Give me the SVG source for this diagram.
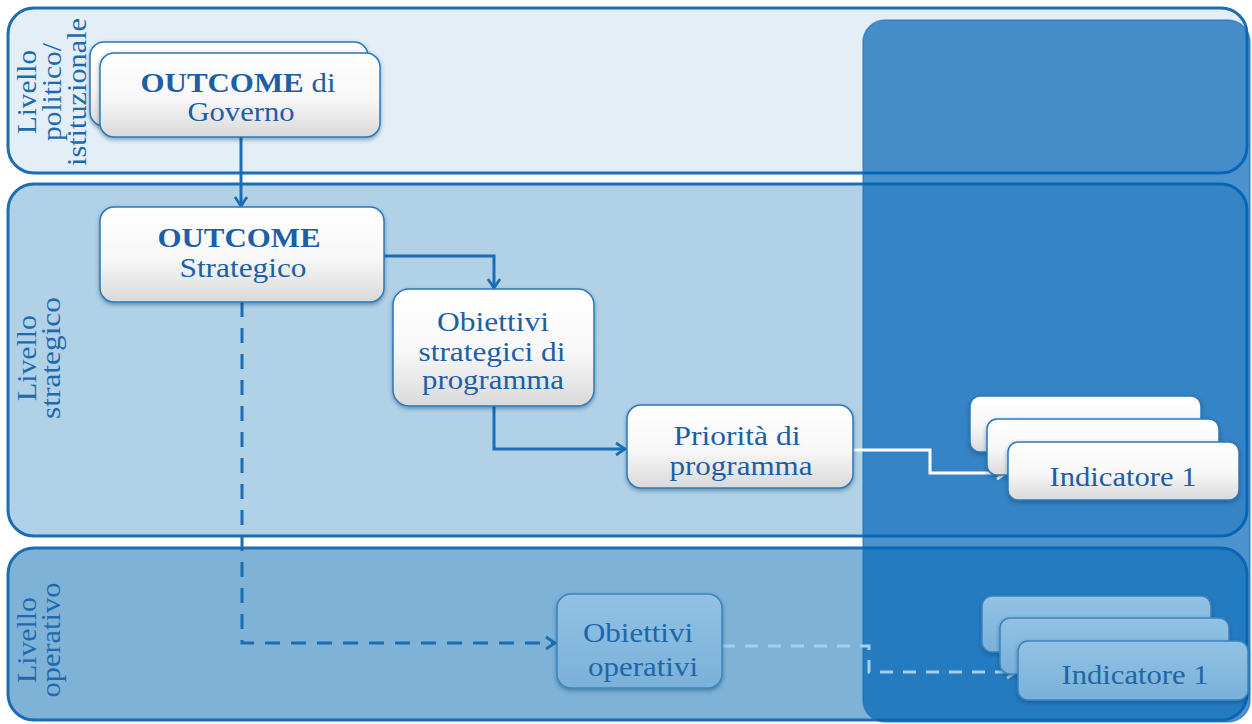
<svg xmlns="http://www.w3.org/2000/svg" width="1252" height="724" viewBox="0 0 1252 724">
<defs>
<linearGradient id="g" x1="0" y1="0" x2="0" y2="1">
<stop offset="0" stop-color="#ffffff"/>
<stop offset="0.55" stop-color="#f7f7f7"/>
<stop offset="1" stop-color="#d9d9d9"/>
</linearGradient>
<linearGradient id="g2" x1="0" y1="0" x2="0" y2="1">
<stop offset="0" stop-color="#92c2e5"/>
<stop offset="1" stop-color="#7ab1d9"/>
</linearGradient>
<filter id="sh" x="-10%" y="-10%" width="120%" height="130%">
<feDropShadow dx="0" dy="2" stdDeviation="2" flood-color="#0a3a66" flood-opacity="0.45"/>
</filter>
<marker id="ab" markerUnits="userSpaceOnUse" markerWidth="16" markerHeight="16" viewBox="0 0 16 16" refX="14" refY="8" orient="auto">
<path d="M5,2 L14,8 L5,14" fill="none" stroke="#1b6db4" stroke-width="2.8"/>
</marker>
<marker id="aw" markerUnits="userSpaceOnUse" markerWidth="16" markerHeight="16" viewBox="0 0 16 16" refX="14" refY="8" orient="auto">
<path d="M5,2 L14,8 L5,14" fill="none" stroke="#ffffff" stroke-width="2.8"/>
</marker>
<marker id="al" markerUnits="userSpaceOnUse" markerWidth="16" markerHeight="16" viewBox="0 0 16 16" refX="14" refY="8" orient="auto">
<path d="M5,2 L14,8 L5,14" fill="none" stroke="#a8cfe9" stroke-width="2.8"/>
</marker>
</defs>
<style>
.band{stroke:#1b6db4;stroke-width:3}
.lbl{font-family:"Liberation Serif","Times New Roman",serif;font-size:27px;fill:#1f69ae;text-anchor:middle}
.box{fill:url(#g);stroke:#2a79bc;stroke-width:1.5;filter:url(#sh)}
.boxl{fill:url(#g2);stroke:#3a85c2;stroke-width:1.5;filter:url(#sh)}
.t{font-family:"Liberation Serif","Times New Roman",serif;font-size:27px;fill:#1c5fa6;text-anchor:middle}
.tl{font-family:"Liberation Serif","Times New Roman",serif;font-size:27px;fill:#2066a8;text-anchor:middle}
.con{fill:none;stroke:#1b6db4;stroke-width:3}
</style>

<g id="bands">
<rect class="band" x="8" y="8" width="1239" height="165" rx="26" fill="#e3eef6"/>
<rect class="band" x="8" y="184" width="1239" height="352" rx="26" fill="#b1d1e6"/>
<rect class="band" x="8" y="548" width="1239" height="172" rx="26" fill="#7eb2d6"/>
<rect x="863" y="20" width="387" height="702" rx="22" fill="#0064b6" fill-opacity="0.7" stroke="#1b6db4" stroke-width="1.5" stroke-opacity="0.6"/>
</g>

<g id="labels">
<text class="lbl" transform="translate(0,92) rotate(-90)"><tspan x="0" y="36" textLength="84" lengthAdjust="spacingAndGlyphs">Livello</tspan><tspan x="0" y="61" textLength="98" lengthAdjust="spacingAndGlyphs">politico/</tspan><tspan x="0" y="86" textLength="148" lengthAdjust="spacingAndGlyphs">istituzionale</tspan></text>
<text class="lbl" transform="translate(0,358) rotate(-90)"><tspan x="0" y="36" textLength="86" lengthAdjust="spacingAndGlyphs">Livello</tspan><tspan x="0" y="60" textLength="122" lengthAdjust="spacingAndGlyphs">strategico</tspan></text>
<text class="lbl" transform="translate(0,640) rotate(-90)"><tspan x="0" y="36" textLength="86" lengthAdjust="spacingAndGlyphs">Livello</tspan><tspan x="0" y="60" textLength="115" lengthAdjust="spacingAndGlyphs">operativo</tspan></text>
</g>

<g id="connectors">
<path class="con" d="M241,137 V206" marker-end="url(#ab)"/>
<path class="con" d="M384,256 H494 V288" marker-end="url(#ab)"/>
<path class="con" d="M494,406 V449 H625" marker-end="url(#ab)"/>
<path fill="none" stroke="#ffffff" stroke-width="3" d="M853,450 H930 V473 H1006" marker-end="url(#aw)"/>
<path class="con" stroke-dasharray="15 11" d="M242,302 V643 H555" marker-end="url(#ab)"/>
<path fill="none" stroke="#a8cfe9" stroke-width="3" stroke-dasharray="13 10" d="M722,646 H869 V672 H1016" marker-end="url(#al)"/>
</g>

<g id="n-outcome-governo">
<rect class="box" x="90" y="42" width="278" height="84" rx="14"/>
<rect class="box" x="100" y="53" width="280" height="84" rx="14"/>
<text class="t" x="238" y="92" textLength="195" lengthAdjust="spacingAndGlyphs"><tspan font-weight="bold">OUTCOME</tspan> di</text>
<text class="t" x="241" y="121" textLength="107" lengthAdjust="spacingAndGlyphs">Governo</text>
</g>

<g id="n-outcome-strategico">
<rect class="box" x="100" y="207" width="284" height="95" rx="14"/>
<text class="t" x="239" y="247" font-weight="bold" textLength="163" lengthAdjust="spacingAndGlyphs">OUTCOME</text>
<text class="t" x="243" y="277" textLength="127" lengthAdjust="spacingAndGlyphs">Strategico</text>
</g>

<g id="n-obiettivi-strategici">
<rect class="box" x="393" y="289" width="201" height="117" rx="16"/>
<text class="t" x="493" y="331" textLength="112" lengthAdjust="spacingAndGlyphs">Obiettivi</text>
<text class="t" x="492" y="361" textLength="147" lengthAdjust="spacingAndGlyphs">strategici di</text>
<text class="t" x="493" y="389" textLength="142" lengthAdjust="spacingAndGlyphs">programma</text>
</g>

<g id="n-priorita">
<rect class="box" x="627" y="405" width="226" height="83" rx="14"/>
<text class="t" x="737" y="445" textLength="127" lengthAdjust="spacingAndGlyphs">Priorità di</text>
<text class="t" x="741" y="475" textLength="143" lengthAdjust="spacingAndGlyphs">programma</text>
</g>

<g id="n-indicatori-strategici">
<rect class="box" x="970" y="396" width="231" height="56" rx="10"/>
<rect class="box" x="987" y="419" width="232" height="56" rx="10"/>
<rect class="box" x="1008" y="442" width="231" height="58" rx="10"/>
<text class="t" x="1123" y="486" textLength="147" lengthAdjust="spacingAndGlyphs">Indicatore 1</text>
</g>

<g id="n-obiettivi-operativi">
<rect class="boxl" x="557" y="594" width="165" height="94" rx="14"/>
<text class="tl" x="638" y="642" textLength="110" lengthAdjust="spacingAndGlyphs">Obiettivi</text>
<text class="tl" x="643" y="676" textLength="110" lengthAdjust="spacingAndGlyphs">operativi</text>
</g>

<g id="n-indicatori-operativi">
<rect class="boxl" x="982" y="596" width="229" height="56" rx="10"/>
<rect class="boxl" x="1000" y="618" width="229" height="56" rx="10"/>
<rect class="boxl" x="1018" y="641" width="230" height="59" rx="10"/>
<text class="tl" x="1135" y="684" textLength="147" lengthAdjust="spacingAndGlyphs">Indicatore 1</text>
</g>
</svg>
